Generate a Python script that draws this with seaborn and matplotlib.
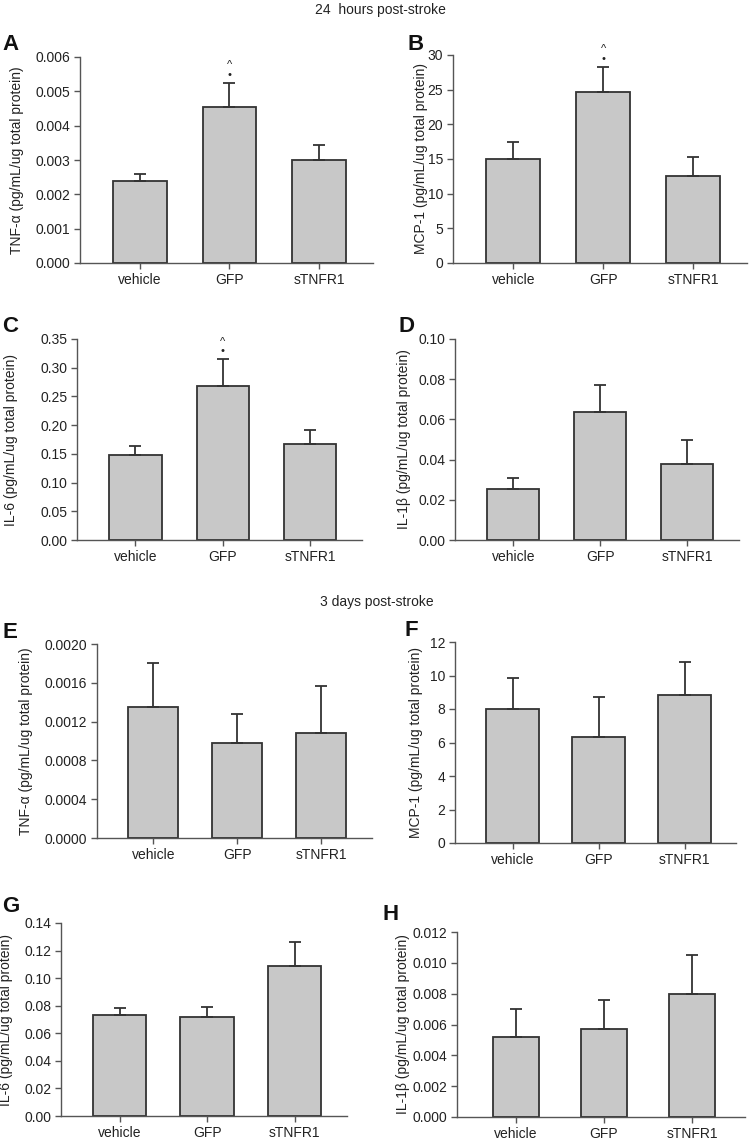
import numpy as np
import matplotlib
matplotlib.use("Agg")
import matplotlib.pyplot as plt
import seaborn as sns
import pandas as pd

sns.set_style("ticks")
plt.rcParams['font.family'] = ['Liberation Sans', 'DejaVu Sans']

groups = ['vehicle', 'GFP', 'sTNFR1']
unit = ' (pg/mL/ug total protein)'

# 24 hours post-stroke
tnf24 = [0.0024, 0.00455, 0.0030]
tnf24_err = [0.0002, 0.0007, 0.00045]
mcp24 = [15.0, 24.6, 12.6]
mcp24_err = [2.5, 3.7, 2.7]
il6_24 = [0.148, 0.268, 0.168]
il6_24_err = [0.016, 0.047, 0.024]
il1b24 = [0.0255, 0.0635, 0.038]
il1b24_err = [0.0055, 0.0135, 0.012]

# 3 days post-stroke
tnf3 = [0.00135, 0.00098, 0.00108]
tnf3_err = [0.00045, 0.0003, 0.00049]
mcp3 = [8.0, 6.3, 8.85]
mcp3_err = [1.85, 2.4, 1.95]
il6_3 = [0.073, 0.0715, 0.1085]
il6_3_err = [0.005, 0.0075, 0.018]
il1b3 = [0.0052, 0.0057, 0.0080]
il1b3_err = [0.0018, 0.0019, 0.0025]

W, H = 754, 1141
fig = plt.figure(figsize=(W / 100, H / 100), dpi=100)

# letter, values, errors, ylabel, ymax, ystep, fmt,
# rect (px: left, top, bar spacing, bottom), ylabel right edge px, bar width, stars, letter pos px
panels = [
    ('A', tnf24, tnf24_err, 'TNF-α' + unit, 0.006, 0.001, '{:.3f}', (80, 57, 89.5, 263), 24, 0.6, True, (2, 45)),
    ('B', mcp24, mcp24_err, 'MCP-1' + unit, 30, 5, '{:.0f}', (453, 55, 90, 263), 428, 0.6, True, (407, 45)),
    ('C', il6_24, il6_24_err, 'IL-6' + unit, 0.35, 0.05, '{:.2f}', (77, 339, 87.3, 540), 18, 0.6, True, (2, 327)),
    ('D', il1b24, il1b24_err, 'IL-1β' + unit, 0.10, 0.02, '{:.2f}', (455, 339, 87, 540), 411, 0.6, False, (399, 327)),
    ('E', tnf3, tnf3_err, 'TNF-α' + unit, 0.0020, 0.0004, '{:.4f}', (97, 644, 84, 838), 33, 0.6, False, (2, 632)),
    ('F', mcp3, mcp3_err, 'MCP-1' + unit, 12, 2, '{:.0f}', (455, 642, 86, 843), 423, 0.61, False, (404, 631)),
    ('G', il6_3, il6_3_err, 'IL-6' + unit, 0.14, 0.02, '{:.2f}', (61, 923, 87.5, 1116), 13, 0.61, False, (2, 907)),
    ('H', il1b3, il1b3_err, 'IL-1β' + unit, 0.012, 0.002, '{:.3f}', (457, 932, 88, 1117), 410, 0.52, False, (383, 915)),
]

xlo, xhi = -0.67, 2.6
axcol = '#555555'
edge = '#333333'
txt = '#222222'

for letter, vals, errs, ylab, ymax, ystep, fmt, rect, labx, bw, stars, lpos in panels:
    left, top, sp, bottom = rect
    width = sp * (xhi - xlo)
    ax = fig.add_axes([left / W, 1 - bottom / H, width / W, (bottom - top) / H])
    df = pd.DataFrame({'group': groups, 'value': vals})
    sns.barplot(data=df, x='group', y='value', color='#c8c8c8', saturation=1,
                edgecolor=edge, linewidth=1.3, width=bw, errorbar=None, ax=ax)
    ax.errorbar(np.arange(3), vals, yerr=[np.zeros(3), errs], fmt='none',
                ecolor=edge, elinewidth=1.3, capsize=4, capthick=1.3)
    if stars:
        ytop = vals[1] + errs[1]
        ax.annotate('•', (1, ytop), xytext=(0, 2), textcoords='offset points',
                    ha='center', va='bottom', fontsize=8, color=txt)
        ax.annotate('^', (1, ytop), xytext=(0, 9), textcoords='offset points',
                    ha='center', va='bottom', fontsize=8, color=txt)
    ax.set_xlim(xlo, xhi)
    ax.set_ylim(0, ymax)
    ticks = np.arange(0, ymax + ystep / 2, ystep)
    ax.set_yticks(ticks)
    ax.set_yticklabels([fmt.format(t) for t in ticks])
    ax.set_xlabel('')
    ax.set_ylabel(ylab, fontsize=10, color=txt)
    ax.yaxis.set_label_coords((labx - left) / width, 0.5)
    sns.despine(ax=ax)
    for s in ['left', 'bottom']:
        ax.spines[s].set_color(axcol)
        ax.spines[s].set_linewidth(1.0)
    ax.tick_params(axis='both', colors=axcol, labelcolor=txt, labelsize=10,
                   length=4, width=1.0, direction='out', pad=3)
    fig.text(lpos[0] / W, 1 - lpos[1] / H, letter, fontsize=16, fontweight='bold',
             ha='left', va='center', color='#111111')

fig.text(380 / W, 1 - 10 / H, '24  hours post-stroke', ha='center', va='center',
         fontsize=10, color=txt)
fig.text(377 / W, 1 - 602 / H, '3 days post-stroke', ha='center', va='center',
         fontsize=10, color=txt)

fig.savefig('out.png', dpi=100)
